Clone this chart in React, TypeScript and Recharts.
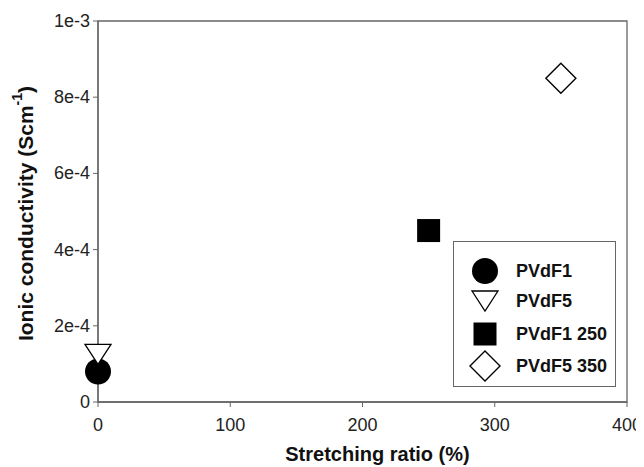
import { ReferenceArea, Scatter, ScatterChart, XAxis, YAxis } from 'recharts'

const seriesNames = ['PVdF1', 'PVdF5', 'PVdF1 250', 'PVdF5 350']
const stretchRatios = [0, 0, 250, 350]
const conductivities = [8e-5, 1.25e-4, 4.5e-4, 8.5e-4]
const xTicks = [0, 100, 200, 300, 400]
const yTicks = [0, 2e-4, 4e-4, 6e-4, 8e-4, 1e-3]
const yTickLabels = ['0', '2e-4', '4e-4', '6e-4', '8e-4', '1e-3']

const font = '"Liberation Sans", Arial, sans-serif'
const axisColor = '#666'

type Kind = 'circle' | 'triangle' | 'square' | 'diamond'
const kinds: Kind[] = ['circle', 'triangle', 'square', 'diamond']

function Marker({ kind, cx, cy }: { kind: Kind; cx: number; cy: number }) {
  if (kind === 'circle') return <circle cx={cx} cy={cy} r={13} fill="#000" />
  if (kind === 'triangle')
    return <path d={`M${cx - 13},${cy - 10}L${cx + 13},${cy - 10}L${cx},${cy + 10}Z`} fill="#fff" stroke="#000" strokeWidth={1.3} />
  if (kind === 'square') return <rect x={cx - 11.5} y={cy - 11.5} width={23} height={23} fill="#000" />
  return <path d={`M${cx},${cy - 15}L${cx + 15},${cy}L${cx},${cy + 15}L${cx - 15},${cy}Z`} fill="#fff" stroke="#000" strokeWidth={1.4} />
}

const XTick = (p: any) => (
  <text x={p.x} y={p.y} dy={20} textAnchor="middle" fontFamily={font} fontSize={18} fill="#222">{p.payload.value}</text>
)

const YTick = (p: any) => (
  <text x={p.x} y={p.y} dy={6} textAnchor="end" fontFamily={font} fontSize={18} fill="#222">
    {yTickLabels[yTicks.indexOf(p.payload.value)] ?? String(p.payload.value)}
  </text>
)

function YLabel(props: any) {
  const vb = props.viewBox || { x: 0, y: 13, height: 381 }
  const x = vb.x + 17
  const y = vb.y + vb.height / 2 + 2
  return (
    <text x={x} y={y} transform={`rotate(-90 ${x} ${y})`} textAnchor="middle" dominantBaseline="central"
      fontFamily={font} fontWeight="bold" fontSize={21} fill="#111">
      Ionic conductivity (Scm<tspan dy={-8} fontSize={14}>-1</tspan><tspan dy={8}>)</tspan>
    </text>
  )
}

function XLabel(props: any) {
  const vb = props.viewBox || { x: 90, y: 394, width: 529 }
  return (
    <text x={vb.x + vb.width / 2 + 15} y={453} textAnchor="middle" fontFamily={font} fontWeight="bold" fontSize={20} fill="#111">
      Stretching ratio (%)
    </text>
  )
}

function LegendBox() {
  return (
    <div style={{ position: 'absolute', left: 445, top: 233, width: 161, height: 144, border: '1px solid #666', background: '#fff', fontFamily: font }}>
      {seriesNames.map((name, i) => {
        const top = [29, 59, 92, 124][i]
        return (
          <div key={name} style={{ position: 'absolute', left: 0, top: top - 16, height: 32, width: 161 }}>
            <svg width={40} height={32} style={{ position: 'absolute', left: 11, top: 0 }}>
              <Marker kind={kinds[i]} cx={20} cy={16} />
            </svg>
            <span style={{ position: 'absolute', left: 62, top: 6, fontSize: 18, fontWeight: 'bold', color: '#111', lineHeight: '20px', whiteSpace: 'nowrap' }}>
              {name}
            </span>
          </div>
        )
      })}
    </div>
  )
}

export default function App() {
  return (
    <div style={{ position: 'relative', width: 636, height: 459 }}>
      <ScatterChart width={636} height={459} margin={{ top: 13, right: 17, left: 0, bottom: 0 }}>
        <ReferenceArea x1={0} x2={400} y1={0} y2={1e-3} fill="none" stroke={axisColor} strokeWidth={1.3} ifOverflow="visible" />
        <XAxis type="number" dataKey="x" domain={[0, 400]} ticks={xTicks} height={65} tickSize={5} tickMargin={4}
          axisLine={{ stroke: axisColor, strokeWidth: 1.3 }} tickLine={{ stroke: axisColor }}
          tick={<XTick />} label={<XLabel />} />
        <YAxis type="number" dataKey="y" domain={[0, 1e-3]} ticks={yTicks} width={90} tickSize={5} tickMargin={3}
          axisLine={{ stroke: axisColor, strokeWidth: 1.3 }} tickLine={{ stroke: axisColor }}
          tick={<YTick />} label={<YLabel />} />
        {seriesNames.map((name, i) => (
          <Scatter key={name} name={name} data={[{ x: stretchRatios[i], y: conductivities[i] }]} isAnimationActive={false}
            shape={(p: any) => <Marker kind={kinds[i]} cx={p.cx} cy={p.cy} />} />
        ))}
      </ScatterChart>
      <LegendBox />
    </div>
  )
}
